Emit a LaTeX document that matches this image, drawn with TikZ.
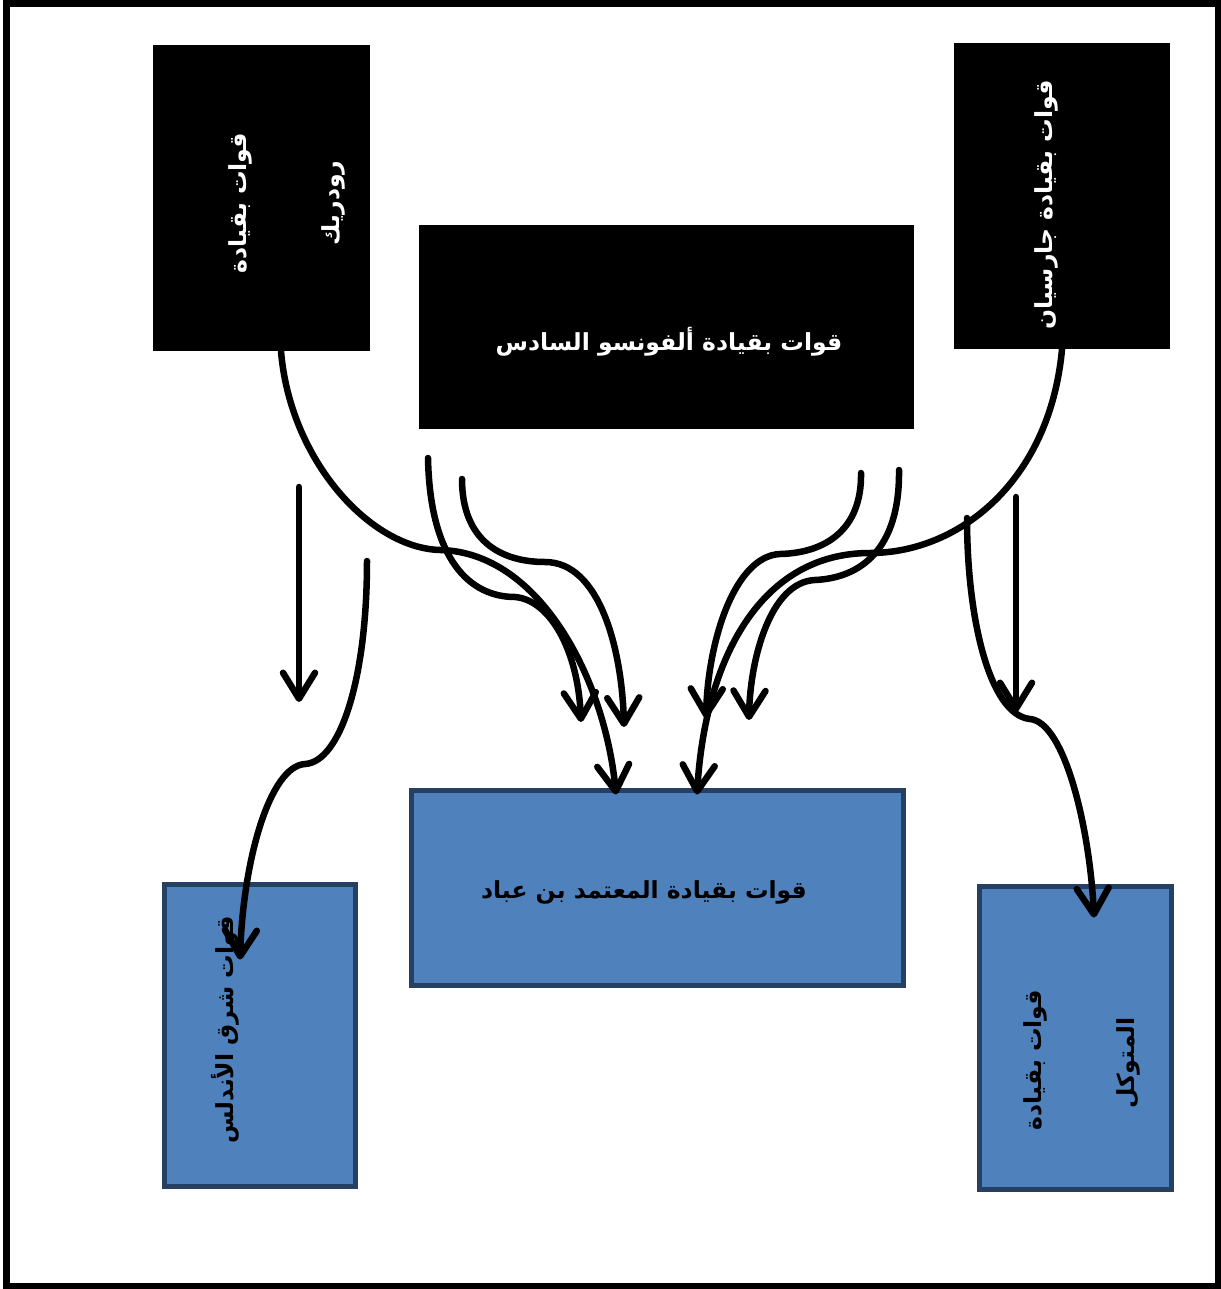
\documentclass[tikz,border=0pt]{standalone}
\usepackage{fontspec}
\newfontfamily\arabicfont[Script=Arabic]{DejaVu Sans}
\TeXXeTstate=1
\usetikzlibrary{arrows.meta}
\definecolor{boxblue}{RGB}{79,129,189}
\definecolor{boxedge}{RGB}{38,64,100}
\newcommand{\rtltext}[1]{\beginR #1\endR}
\begin{document}
\begin{tikzpicture}[x=1pt,y=-1pt,
  darkbox/.style={draw=none, fill=black, inner sep=0pt},
  bluebox/.style={draw=boxedge, line width=5pt, fill=boxblue, inner sep=0pt},
  lbl/.style={inner sep=0pt, font=\arabicfont\bfseries\fontsize{23.5}{28}\selectfont},
  wlbl/.style={lbl, text=white},
  conn/.style={line width=6.5pt, line join=round, line cap=round},
  arr/.style={conn, -{Straight Barb[length=26pt,width=32pt,round]}}]

\useasboundingbox (0,0) rectangle (1220,1289);
\fill[white] (0,0) rectangle (1220,1289);
% outer frame
\draw[line width=6.5pt] (6.5,3.5) rectangle (1218,1286);

% source boxes (black)
\node[darkbox, minimum width=217pt, minimum height=306pt] (rod) at (261.5,198) {};
\node[darkbox, minimum width=216pt, minimum height=306pt] (gar) at (1062,196) {};
\node[darkbox, minimum width=495pt, minimum height=204pt] (alf) at (666.5,327) {};

% target boxes (blue)
\node[bluebox, minimum width=492pt, minimum height=195pt] (mut) at (657,887.5) {};
\node[bluebox, minimum width=191pt, minimum height=302pt] (east) at (259.5,1035) {};
\node[bluebox, minimum width=192pt, minimum height=303pt] (mtw) at (1075,1037.5) {};

% labels
\node[wlbl, rotate=90] (rodA) at (240,203) {\rtltext{قوات بقيادة}};
\node[wlbl, rotate=90] (rodB) at (333,203) {\rtltext{رودريك}};
\node[wlbl, rotate=90] (garA) at (1046,205) {\rtltext{قوات بقيادة جارسيان}};
\node[wlbl] (alfA) at (669,342) {\rtltext{قوات بقيادة ألفونسو السادس}};
\node[lbl] (mutA) at (644,892) {\rtltext{قوات بقيادة المعتمد بن عباد}};
\node[lbl, rotate=90] (eastA) at (225,1030) {\rtltext{قوات شرق الأندلس}};
\node[lbl, rotate=90] (mtwA) at (1035,1060) {\rtltext{قوات بقيادة}};
\node[lbl, rotate=90] (mtwB) at (1128,1063) {\rtltext{المتوكل}};

% free ends of the connectors
\coordinate (aL1) at (428,458);
\coordinate (aL2) at (462,479);
\coordinate (aR1) at (861,473);
\coordinate (aR2) at (899,470);
\coordinate (tL1) at (581,722);
\coordinate (tL2) at (624,727);
\coordinate (tR1) at (706,718);
\coordinate (tR2) at (749,720);
\coordinate (hS) at (367,561);
\coordinate (gS) at (967,518);
\coordinate (sL) at (299,487);
\coordinate (sLt) at (299,702);
\coordinate (sR) at (1016,497);
\coordinate (sRt) at (1016,712);

% Roderic -> Mu'tamid
\draw[arr] ([xshift=19.5pt]rod.south) .. controls (290,460) and (370,548) .. (440,550)
  .. controls (540,552) and (605,680) .. ([xshift=-41pt,yshift=-7pt]mut.north);
% Garcia -> Mu'tamid
\draw[arr] (gar.south) .. controls (1050,480) and (960,553) .. (870,553)
  .. controls (760,553) and (705,660) .. ([xshift=40pt,yshift=-7pt]mut.north);
% Alfonso, left pair
\draw[arr] (aL1) .. controls (430,560) and (470,597) .. (515,597)
  .. controls (550,600) and (578,650) .. (tL1);
\draw[arr] (aL2) .. controls (462,540) and (500,562) .. (545,562)
  .. controls (600,562) and (622,650) .. (tL2);
% Alfonso, right pair
\draw[arr] (aR1) .. controls (862,530) and (825,553) .. (780,554)
  .. controls (735,556) and (708,640) .. (tR1);
\draw[arr] (aR2) .. controls (900,550) and (860,578) .. (815,580)
  .. controls (770,582) and (750,660) .. (tR2);
% towards eastern al-Andalus
\draw[arr] (hS) .. controls (367,680) and (340,762) .. (305,764)
  .. controls (270,766) and (243,860) .. ([xshift=-19.5pt,yshift=-78pt]east.north);
% towards al-Mutawakkil
\draw[arr] (gS) .. controls (967,620) and (990,715) .. (1030,719)
  .. controls (1065,722) and (1090,830) .. ([xshift=19pt,yshift=-34pt]mtw.north);
% straight arrows
\draw[arr] (sL) -- (sLt);
\draw[arr] (sR) -- (sRt);
\end{tikzpicture}
\end{document}
